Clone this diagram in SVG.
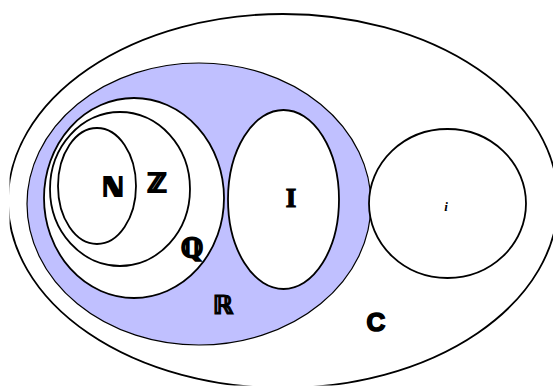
<svg xmlns="http://www.w3.org/2000/svg" width="554" height="388" viewBox="0 0 554 388">
<defs>
<style>
.set{fill:#ffffff;stroke:#000000;stroke-width:1.8}
.thin{stroke-width:1.2}
.lbl{font-family:"DejaVu Sans","Liberation Sans",sans-serif;font-weight:bold;font-size:26px;fill:#000000;text-anchor:middle}
.ds{stroke:#000000;stroke-width:2.2;stroke-linejoin:miter}
</style>
<clipPath id="frame"><rect x="9.6" y="0" width="543.4" height="385.6"/></clipPath>
</defs>
<rect x="0" y="0" width="554" height="388" fill="#ffffff"/>
<g id="set-C">
<ellipse class="set" cx="283" cy="201" rx="275" ry="187" clip-path="url(#frame)"/>
<text class="lbl" x="376" y="331" style="font-family:'Liberation Sans',sans-serif;font-size:26px;stroke:#000000;stroke-width:1.6">C</text>
</g>
<g id="set-R">
<ellipse class="set thin" cx="199" cy="204" rx="172" ry="141" style="fill:#c0c0ff"/>
<text class="lbl ds" x="223" y="314" style="stroke-width:1.2">ℝ</text>
</g>
<g id="set-Q">
<ellipse class="set" cx="134" cy="198" rx="90" ry="100"/>
<text class="lbl ds" x="192" y="257">ℚ</text>
</g>
<g id="set-Z">
<ellipse class="set" cx="120" cy="189" rx="70" ry="77"/>
<text class="lbl ds" x="157" y="192">ℤ</text>
</g>
<g id="set-N">
<ellipse class="set" cx="97" cy="186" rx="39" ry="58"/>
<text class="lbl ds" x="113" y="196">ℕ</text>
</g>
<g id="set-I">
<ellipse class="set" cx="283.5" cy="199.5" rx="55.5" ry="89.5"/>
<text class="lbl" x="291" y="207" style="font-family:'Liberation Serif',serif;font-size:27px;stroke:#000000;stroke-width:1.2">I</text>
</g>
<g id="set-i">
<ellipse class="set" cx="447.5" cy="203.5" rx="78.5" ry="74.5"/>
<text x="446" y="211" style="font-family:'Liberation Serif',serif;font-style:italic;font-weight:bold;font-size:13px;text-anchor:middle">i</text>
</g>
<g id="connectors"/>
</svg>
